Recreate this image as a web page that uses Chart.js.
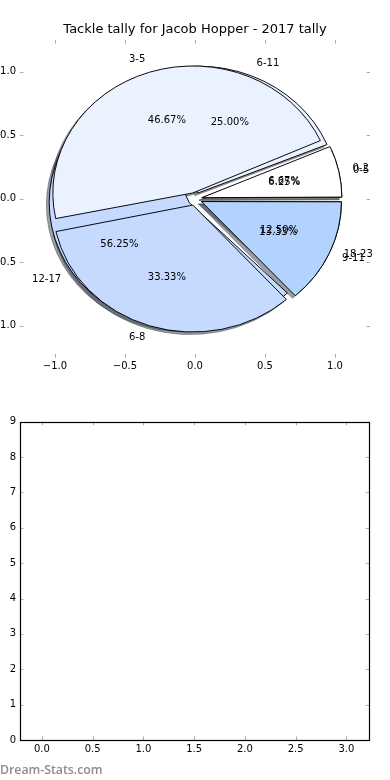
<!DOCTYPE html>
<html><head><meta charset="utf-8">
<script src="https://cdn.jsdelivr.net/npm/chart.js@4.4.0/dist/chart.umd.min.js"></script>
<style>
html,body{margin:0;padding:0;background:#fff;}
#wrap{position:relative;width:390px;height:780px;overflow:hidden;background:#fff;}
canvas{position:absolute;}
#mark{position:absolute;left:0;top:764px;font:600 12.3px "Open Sans";line-height:12px;color:#8c8c8c;white-space:nowrap;}
</style></head><body>
<div id="wrap">
<canvas id="pies" width="350" height="350" style="left:20px;top:24px;width:350px;height:350px"></canvas>
<canvas id="axesTop" width="390" height="390" style="left:0;top:0;width:390px;height:390px"></canvas>
<canvas id="axesBottom" width="390" height="390" style="left:0;top:390px;width:390px;height:390px"></canvas>
<div id="mark">Dream-Stats.com</div>
</div>
<script>
// ---- data ----
const chartTitle = 'Tackle tally for Jacob Hopper - 2017 tally';
const pieALabels = ['0-2', '3-5', '6-8', '9-11'];
const pieAValues = [1, 7, 5, 2];
const pieBLabels = ['0-5', '6-11', '12-17', '18-23'];
const pieBValues = [1, 4, 9, 2];
const sliceColors = ['#ffffff', '#eaf1ff', '#c6d9ff', '#b3d3ff'];
const pieTicks = [-1, -0.5, 0, 0.5, 1];
const lowerXTicks = [0, 0.5, 1, 1.5, 2, 2.5, 3];
const lowerYTicks = [0, 1, 2, 3, 4, 5, 6, 7, 8, 9];

// ---- geometry / style ----
const R = 140;            // pie radius in px (1 data unit horizontally)
const Y_RATIO = 127 / 140; // vertical squash of the axes
const EXPL = 0.05;        // explode fraction
const OFF = EXPL * R * 4; // Chart.js arc offset (translates offset/4)
const FONT = 'DejaVu Sans';

const rev = a => a.slice().reverse();
function shade(hex) {
  const n = parseInt(hex.slice(1), 16);
  const r = ((n >> 16) & 255) * 0.3, g = ((n >> 8) & 255) * 0.3, b = (n & 255) * 0.3;
  return `rgba(${r.toFixed(0)},${g.toFixed(0)},${b.toFixed(0)},0.5)`;
}
const shadowColors = sliceColors.map(shade);

function fixArcs(chart) {
  chart.data.datasets.forEach((ds, i) => {
    chart.getDatasetMeta(i).data.forEach(arc => {
      const c = arc.circumference;
      const fix = 1 - Math.sin(Math.min(Math.PI, c));
      arc.innerRadius = 0;
      arc.outerRadius = R - (OFF / 4) * fix;
    });
  });
}
const pieGeom = {
  id: 'pieGeom',
  afterDatasetsUpdate(chart) { fixArcs(chart); },
  beforeDatasetsDraw(chart) {
    fixArcs(chart);
    const ctx = chart.ctx;
    const a = chart.getDatasetMeta(0).data[0];
    const cx = a.x, cy = a.y;
    ctx.save();
    ctx.translate(cx, cy);
    ctx.scale(1, Y_RATIO);
    ctx.translate(-cx, -cy);
  },
  afterDatasetsDraw(chart) { chart.ctx.restore(); },
  beforeDatasetDraw(chart, args) {
    const ds = chart.data.datasets[args.index];
    chart.ctx.save();
    if (ds.isShadow) chart.ctx.translate(-0.02 * R, 0.02 * R);
  },
  afterDatasetDraw(chart) { chart.ctx.restore(); }
};

new Chart(document.getElementById('pies'), {
  type: 'pie',
  data: {
    labels: rev(pieALabels),
    datasets: [
      { data: rev(pieAValues), backgroundColor: rev(sliceColors), borderColor: '#000', borderWidth: 1, offset: OFF },
      { data: rev(pieBValues), backgroundColor: rev(sliceColors), borderColor: '#000', borderWidth: 1, offset: OFF },
      { data: rev(pieAValues), backgroundColor: rev(shadowColors), borderColor: rev(shadowColors), borderWidth: 1, offset: OFF, isShadow: true },
      { data: rev(pieBValues), backgroundColor: rev(shadowColors), borderColor: rev(shadowColors), borderWidth: 1, offset: OFF, isShadow: true }
    ]
  },
  options: {
    responsive: false, animation: false, events: [],
    rotation: 90, radius: R,
    layout: { padding: 0 },
    plugins: { legend: { display: false }, tooltip: { enabled: false } }
  },
  plugins: [pieGeom]
});

// ---- axes helpers ----
const fmt1 = v => (v < 0 ? '\u2212' : '') + Math.abs(v).toFixed(1);
function inwardTicks(chart, box) {
  const ctx = chart.ctx, a = chart.chartArea;
  const xs = chart.scales.x, ys = chart.scales.y;
  ctx.save();
  ctx.strokeStyle = 'rgba(0,0,0,0.33)';
  ctx.lineWidth = 1;
  ctx.beginPath();
  xs.ticks.forEach(t => {
    const x = Math.round(xs.getPixelForValue(t.value)) + 0.5;
    ctx.moveTo(x, a.top); ctx.lineTo(x, a.top + 3.5);
    ctx.moveTo(x, a.bottom); ctx.lineTo(x, a.bottom - 3.5);
  });
  ys.ticks.forEach(t => {
    const y = Math.round(ys.getPixelForValue(t.value)) + 0.5;
    ctx.moveTo(a.left, y); ctx.lineTo(a.left + 3.5, y);
    ctx.moveTo(a.right, y); ctx.lineTo(a.right - 3.5, y);
  });
  ctx.stroke();
  if (box) {
    ctx.strokeStyle = '#000';
    ctx.lineWidth = 1.2;
    ctx.strokeRect(Math.round(a.left) + 0.5, Math.round(a.top) + 0.5, Math.round(a.right - a.left), Math.round(a.bottom - a.top));
  }
  ctx.restore();
}
function drawPieText(ctx, xs, ys, labels, values) {
  const total = values.reduce((s, v) => s + v, 0);
  let theta = 0;
  values.forEach((v, i) => {
    const t1 = theta, t2 = theta + 360 * v / total;
    theta = t2;
    const tm = (t1 + t2) / 2 * Math.PI / 180;
    const c = Math.cos(tm), s = Math.sin(tm);
    const ox = EXPL * c, oy = EXPL * s;
    const lx = ox + 1.1 * c, ly = oy + 1.1 * s;
    ctx.textAlign = lx > 0 ? 'left' : 'right';
    ctx.fillText(labels[i], xs.getPixelForValue(lx), ys.getPixelForValue(ly));
    const px = ox + 0.6 * c, py = oy + 0.6 * s;
    ctx.textAlign = 'center';
    ctx.fillText((100 * v / total).toFixed(2) + '%', xs.getPixelForValue(px), ys.getPixelForValue(py));
  });
}
const topDecor = {
  id: 'topDecor',
  afterDraw(chart) {
    inwardTicks(chart, false);
    const ctx = chart.ctx, a = chart.chartArea;
    ctx.save();
    ctx.fillStyle = '#000';
    ctx.textBaseline = 'middle';
    ctx.font = `13px "${FONT}"`;
    ctx.textAlign = 'center';
    ctx.fillText(chartTitle, (a.left + a.right) / 2, 30);
    ctx.font = `10px "${FONT}"`;
    drawPieText(ctx, chart.scales.x, chart.scales.y, pieBLabels, pieBValues);
    drawPieText(ctx, chart.scales.x, chart.scales.y, pieALabels, pieAValues);
    ctx.restore();
  }
};
const bottomDecor = { id: 'bottomDecor', afterDraw(chart) { inwardTicks(chart, true); } };

const tickFont = { family: FONT, size: 10 };
new Chart(document.getElementById('axesTop'), {
  type: 'scatter',
  data: { datasets: [] },
  options: {
    responsive: false, animation: false, events: [],
    layout: { padding: { left: 0, right: 20, top: 40, bottom: 0 } },
    plugins: { legend: { display: false }, tooltip: { enabled: false }, title: { display: false } },
    scales: {
      x: {
        type: 'linear', position: 'bottom', min: -1.25, max: 1.25,
        afterBuildTicks: s => { s.ticks = pieTicks.map(v => ({ value: v })); },
        afterFit: s => { s.height = 32.5; },
        grid: { display: false, drawTicks: false }, border: { display: false },
        ticks: { callback: v => fmt1(v), font: tickFont, color: '#000', padding: 3, maxRotation: 0, autoSkip: false }
      },
      y: {
        type: 'linear', position: 'left', min: -1.25, max: 1.25,
        afterBuildTicks: s => { s.ticks = pieTicks.map(v => ({ value: v })); },
        afterFit: s => { s.width = 20; },
        grid: { display: false, drawTicks: false }, border: { display: false },
        ticks: { callback: v => fmt1(v), font: tickFont, color: '#000', padding: 4, autoSkip: false }
      }
    }
  },
  plugins: [topDecor]
});

new Chart(document.getElementById('axesBottom'), {
  type: 'scatter',
  data: { datasets: [] },
  options: {
    responsive: false, animation: false, events: [],
    layout: { padding: { left: 0, right: 20.7, top: 31.7, bottom: 0 } },
    plugins: { legend: { display: false }, tooltip: { enabled: false } },
    scales: {
      x: {
        type: 'linear', position: 'bottom', min: -0.215, max: 3.225,
        afterBuildTicks: s => { s.ticks = lowerXTicks.map(v => ({ value: v })); },
        afterFit: s => { s.height = 40; },
        grid: { display: false, drawTicks: false }, border: { display: false },
        ticks: { callback: v => v.toFixed(1), font: tickFont, color: '#000', padding: 3, maxRotation: 0, autoSkip: false }
      },
      y: {
        type: 'linear', position: 'left', min: 0, max: 9,
        afterBuildTicks: s => { s.ticks = lowerYTicks.map(v => ({ value: v })); },
        afterFit: s => { s.width = 20; },
        grid: { display: false, drawTicks: false }, border: { display: false },
        ticks: { callback: v => String(v), font: tickFont, color: '#000', padding: 4, autoSkip: false }
      }
    }
  },
  plugins: [bottomDecor]
});
</script>
</body></html>
